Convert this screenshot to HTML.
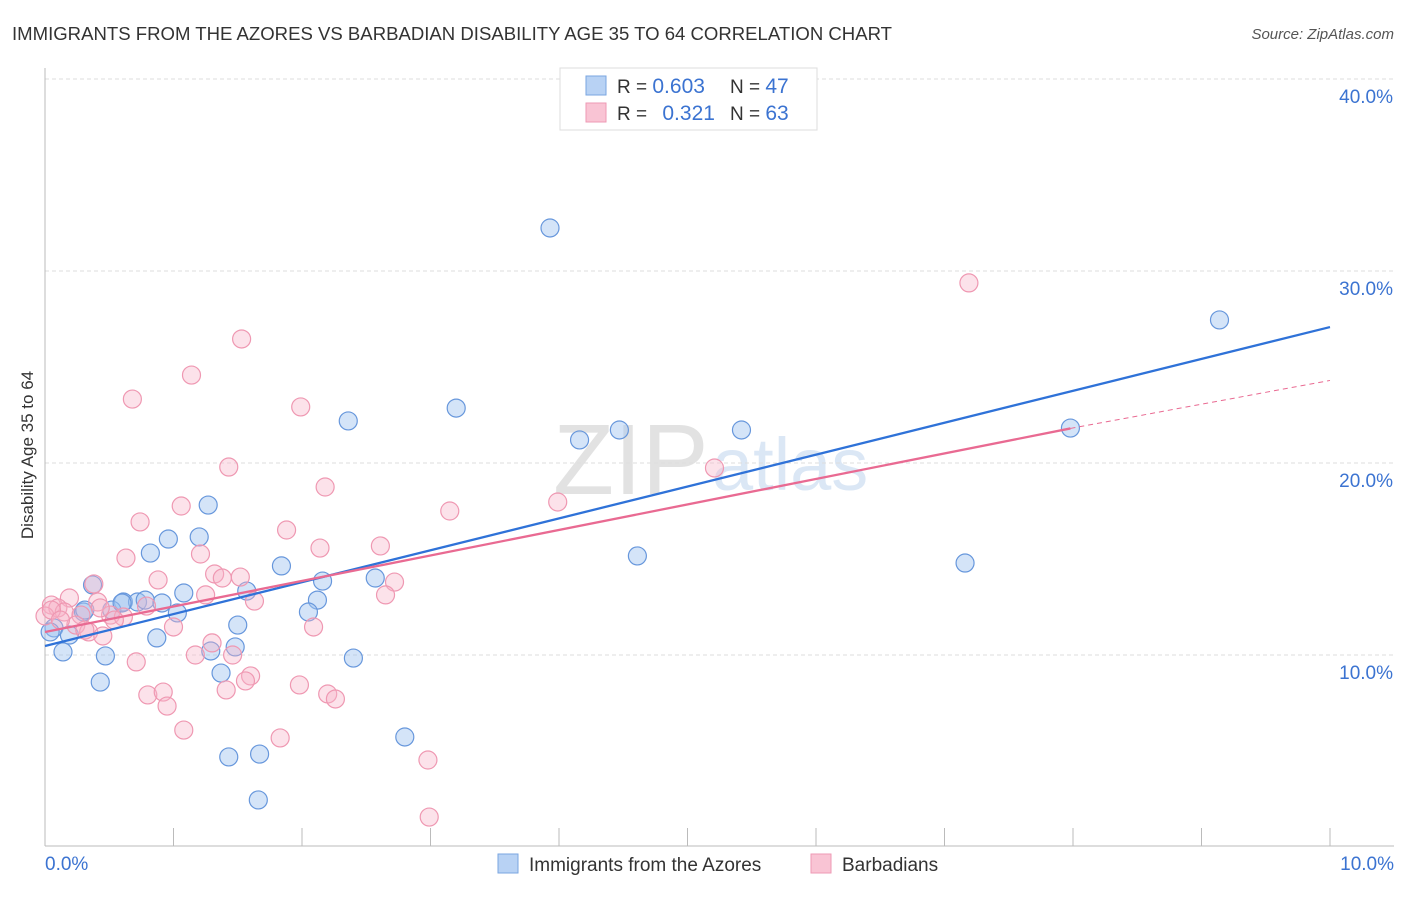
<!DOCTYPE html>
<html><head><meta charset="utf-8"><style>
body{margin:0;background:#fff;font-family:"Liberation Sans",sans-serif;}
svg text{font-family:"Liberation Sans",sans-serif;}
</style></head><body>
<svg id="chart" width="1406" height="892" xmlns="http://www.w3.org/2000/svg">
<text x="12" y="40" font-size="18.5" fill="#333" textLength="880" lengthAdjust="spacingAndGlyphs">IMMIGRANTS FROM THE AZORES VS BARBADIAN DISABILITY AGE 35 TO 64 CORRELATION CHART</text>
<text x="1394" y="39" font-size="15" fill="#555" text-anchor="end" font-style="italic">Source: ZipAtlas.com</text>
<text x="553" y="494" font-size="100" fill="#d0d0d0" font-family="Liberation Serif" opacity="0.6">ZIP</text>
<text x="712" y="490" font-size="74" fill="#c4d8f0" opacity="0.6">atlas</text>
<g id="grid"></g>
<g id="axes"></g>
<g id="pts"></g>
<g id="lines"></g>
<text transform="translate(33,455) rotate(-90)" font-size="17" fill="#333" text-anchor="middle">Disability Age 35 to 64</text>
<g>
<rect x="560" y="68" width="257" height="62" fill="#fff" stroke="#ddd"/>
<rect x="586" y="76" width="20" height="19" fill="#b8d2f4" stroke="#7aa6e0"/>
<rect x="586" y="103" width="20" height="19" fill="#f9c4d4" stroke="#ee9ab4"/>
<text x="617" y="93" font-size="19" fill="#333">R = <tspan fill="#3b73d1" font-size="21">0.603</tspan></text>
<text x="730" y="93" font-size="19" fill="#333">N = <tspan fill="#3b73d1" font-size="21">47</tspan></text>
<text x="617" y="120" font-size="19" fill="#333">R = <tspan fill="#3b73d1" dx="10" font-size="21">0.321</tspan></text>
<text x="730" y="120" font-size="19" fill="#333">N = <tspan fill="#3b73d1" font-size="21">63</tspan></text>
</g>
<g>
<rect x="498" y="854" width="20" height="19" fill="#b8d2f4" stroke="#7aa6e0"/>
<text x="529" y="871" font-size="19" fill="#333">Immigrants from the Azores</text>
<rect x="811" y="854" width="20" height="19" fill="#f9c4d4" stroke="#ee9ab4"/>
<text x="842" y="871" font-size="19" fill="#333">Barbadians</text>
</g>
</svg>
<script>
const xTicks=[0,1,2,3,4,5,6,7,8,9,10];
const yTicks=[10,20,30,40];
const blueX=[3.93,9.14,2.36,3.20,4.16,4.47,5.42,7.98,4.61,7.16,1.27,0.96,1.20,0.82,0.37,1.84,2.16,2.57,1.08,0.61,0.72,0.78,0.91,0.52,0.30,1.03,1.57,2.12,2.05,1.50,0.07,0.19,0.87,1.29,1.48,0.14,0.47,2.40,1.37,0.43,2.80,1.43,1.67,1.66,0.04,0.60,0.31];
const blueY=[32.24,27.45,22.19,22.86,21.20,21.72,21.72,21.82,15.16,14.79,17.81,16.04,16.15,15.31,13.65,14.64,13.85,14.01,13.23,12.76,12.76,12.86,12.71,12.34,12.24,12.19,13.33,12.86,12.24,11.56,11.41,11.04,10.89,10.21,10.42,10.16,9.95,9.84,9.06,8.59,5.73,4.69,4.84,2.45,11.20,12.71,12.34];
const pinkX=[7.19,1.53,1.14,0.68,1.99,1.43,5.21,2.18,1.06,0.74,3.99,3.15,1.88,2.14,1.21,0.63,2.61,0.38,1.32,0.88,1.52,1.38,2.72,2.65,1.25,1.63,0.19,0.05,0.10,0.15,0.28,0.51,0.61,0.41,0.79,1.00,2.09,0.00,0.24,0.34,0.45,1.30,1.46,1.17,0.71,1.60,1.56,1.41,1.98,0.80,0.92,2.20,2.26,0.95,1.08,1.83,2.98,2.99,0.05,0.12,0.31,0.54,0.43];
const pinkY=[29.38,26.46,24.58,23.33,22.92,19.79,19.74,18.75,17.76,16.93,17.97,17.50,16.51,15.57,15.26,15.05,15.68,13.70,14.22,13.91,14.06,14.01,13.80,13.13,13.13,12.81,12.97,12.60,12.45,12.24,12.08,12.08,11.98,12.76,12.55,11.46,11.46,12.03,11.56,11.20,10.99,10.63,10.00,10.00,9.64,8.91,8.65,8.18,8.44,7.92,8.07,7.97,7.71,7.34,6.09,5.68,4.53,1.56,12.34,11.82,11.30,11.82,12.45];
const blueTrend=[10.47,27.08];
const pinkTrend=[11.2,21.8,24.3];
const pinkSolidEnd=7.98;
const NS='http://www.w3.org/2000/svg';
const X=v=>45+v*128.5, Y=v=>847-v*19.2;
function mk(tag,attrs,parent){const e=document.createElementNS(NS,tag);for(const k in attrs)e.setAttribute(k,attrs[k]);parent.appendChild(e);return e;}
const grid=document.getElementById('grid'),axes=document.getElementById('axes'),pts=document.getElementById('pts'),lines=document.getElementById('lines');
yTicks.forEach(t=>{
 const l=mk('line',{x1:45,x2:1394,y1:Y(t),y2:Y(t),stroke:'#ddd','stroke-dasharray':'4,3'},grid);
 
 
 const tx=mk('text',{x:1393,y:Y(t)+24,'font-size':19,fill:'#3b73d1','text-anchor':'end'},axes);tx.textContent=t.toFixed(1)+'%';
 
 
});
const ax=mk('line',{x1:45,x2:45,y1:68,y2:846,stroke:'#bbb'},axes);


const bx=mk('line',{x1:45,x2:1394,y1:846,y2:846,stroke:'#bbb'},axes);


xTicks.forEach(t=>{
 const l=mk('line',{x1:X(t),x2:X(t),y1:828,y2:846,stroke:'#bbb'},axes);
 
 
});
[[0,'0.0%','start',45],[10,'10.0%','end',1394]].forEach(([v,s,a,px])=>{
 const tx=mk('text',{x:px,y:870,'font-size':19,fill:'#3b73d1','text-anchor':a},axes);tx.textContent=s;
 
 
});
blueX.forEach((v,i)=>{
 const c=mk('circle',{cx:X(v),cy:Y(blueY[i]),r:9,fill:'rgba(160,196,240,0.45)',stroke:'#6797dc','stroke-width':1.2},pts);
 
 
});
pinkX.forEach((v,i)=>{
 const c=mk('circle',{cx:X(v),cy:Y(pinkY[i]),r:9,fill:'rgba(248,180,200,0.38)',stroke:'#ef98b2','stroke-width':1.2},pts);
 
 
});
const bl=mk('line',{x1:X(0),y1:Y(blueTrend[0]),x2:X(10),y2:Y(blueTrend[1]),stroke:'#2f72d8','stroke-width':2.3},lines);


const pl=mk('line',{x1:X(0),y1:Y(pinkTrend[0]),x2:X(pinkSolidEnd),y2:Y(pinkTrend[1]),stroke:'#e96a92','stroke-width':2.3},lines);


const pd=mk('line',{x1:X(pinkSolidEnd),y1:Y(pinkTrend[1]),x2:X(10),y2:Y(pinkTrend[2]),stroke:'#e96a92','stroke-width':1,'stroke-dasharray':'5,4'},lines);


</script>
</body></html>
